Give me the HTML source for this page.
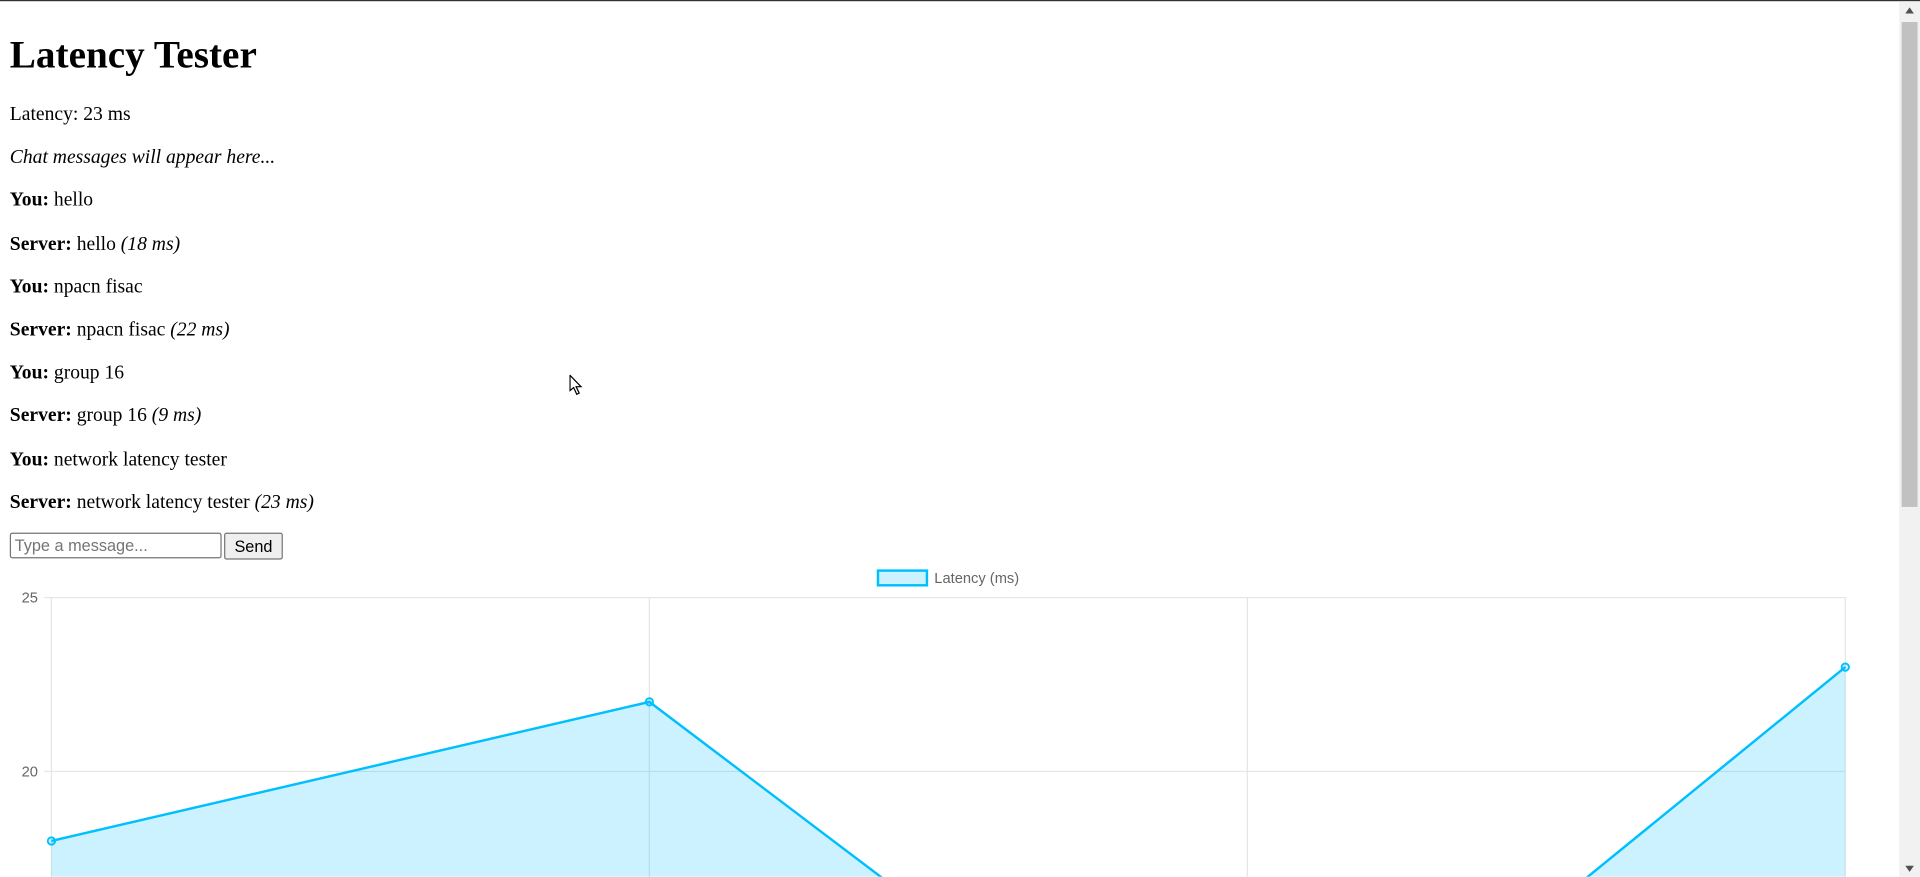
<!DOCTYPE html>
<html><head><meta charset="utf-8"><style>
html,body{margin:0;padding:0;overflow:hidden;background:#fff;width:1920px;height:877px}
#wrap{position:absolute;left:0;top:0;width:1568px;height:716px;transform:scale(1.22449);transform-origin:0 0;overflow:hidden;border-top:1px solid #333;box-sizing:border-box;font-family:"Liberation Serif",serif;font-size:16px}
#content{position:absolute;left:8px;top:0;width:1535px}
h1{font-size:32px;margin:25px 0 21px;line-height:37px}
p{margin:16px 0;line-height:19.2px}
#row{position:absolute;left:8px;top:434px}
#msg{width:173px;height:21px;box-sizing:border-box;border:1px solid #767676;border-radius:2px;font:13.3px "Liberation Sans",sans-serif;padding:1px 3px;vertical-align:top}
#send{height:22px;box-sizing:border-box;width:48px;margin-left:2px;font:13.3px "Liberation Sans",sans-serif;background:#efefef;border:1px solid #767676;border-radius:2px;padding:0;vertical-align:top}
#chart{position:absolute;left:0;top:0}
#sb{position:absolute;left:1551px;top:0;width:17px;height:716px;background:#f1f1f1}
</style></head><body>
<div id="wrap">
<div id="content">
<h1>Latency Tester</h1>
<p>Latency: 23 ms</p>
<p><i>Chat messages will appear here...</i></p>
<p><b>You:</b> hello</p>
<p><b>Server:</b> hello <i>(18 ms)</i></p>
<p><b>You:</b> npacn fisac</p>
<p><b>Server:</b> npacn fisac <i>(22 ms)</i></p>
<p><b>You:</b> group 16</p>
<p><b>Server:</b> group 16 <i>(9 ms)</i></p>
<p><b>You:</b> network latency tester</p>
<p><b>Server:</b> network latency tester <i>(23 ms)</i></p>
</div>
<div id="row"><input id="msg" placeholder="Type a message..."><button id="send">Send</button></div>
<svg id="chart" width="1551" height="716" font-family="Liberation Sans, sans-serif"></svg>
<svg style="position:absolute;left:465px;top:305px" width="12" height="18"><path d="M0.5 0.5 L0.5 13 L3.5 10.5 L6 16 L8 15 L5.5 9.8 L9.5 9.8 Z" fill="#fff" stroke="#000" stroke-width="1"/></svg>
<div id="sb">
<div style="position:absolute;left:2px;top:17px;width:13px;height:396px;background:#c1c1c1"></div>
<svg width="17" height="716" style="position:absolute;left:0;top:0"><path d="M5 10 L12 10 L8.5 5 Z" fill="#505050"/><path d="M5 706 L12 706 L8.5 711 Z" fill="#505050"/></svg>
</div>
</div>
<script>
const labels = ["1","2","3","4"];
const latency = [18, 22, 9, 23];
const yTicks = [25, 20, 15, 10, 5];
const NS = "http://www.w3.org/2000/svg";
const svg = document.getElementById('chart');
const L = 42, R = 1507, T = 487, yMax = 25, pxPerUnit = 28.4, BOTTOM = 716;
function x(i){ return L + i*(R-L)/(labels.length-1); }
function y(v){ return T + (yMax - v)*pxPerUnit; }
function mk(tag, attrs){ const e=document.createElementNS(NS,tag); for(const k in attrs) e.setAttribute(k,attrs[k]); svg.appendChild(e); return e; }
yTicks.forEach(t=>{
  if (y(t) > BOTTOM) return;
  const g = mk('line',{x1:36,x2:R,y1:y(t),y2:y(t),stroke:'#e5e5e5','stroke-width':1});
  
  
  const tx = mk('text',{x:31,y:y(t)+4,'text-anchor':'end','font-size':12,fill:'#666'});
  tx.textContent = t;
  
  
});
labels.forEach((l,i)=>{
  const g = mk('line',{x1:x(i),x2:x(i),y1:T,y2:BOTTOM,stroke:'#e5e5e5','stroke-width':1});
  
  
});
const base = y(yTicks[yTicks.length-1]);
let d = latency.map((v,i)=>(i?'L':'M')+x(i)+' '+y(v)).join(' ');
const area = mk('path',{d:d+' L'+x(latency.length-1)+' '+base+' L'+x(0)+' '+base+' Z',fill:'rgba(0,191,255,0.2)'});


const line = mk('path',{d:d,fill:'none',stroke:'#00bfff','stroke-width':2});


latency.forEach((v,i)=>{
  const c = mk('circle',{cx:x(i),cy:y(v),r:3,fill:'rgba(0,191,255,0.2)',stroke:'#00bfff','stroke-width':1.5});
  
  
});
const lb = mk('rect',{x:717,y:465,width:40,height:12,fill:'rgba(0,191,255,0.2)',stroke:'#00bfff','stroke-width':2});


const lt = mk('text',{x:763,y:475,'font-size':12,fill:'#666'});
lt.textContent = 'Latency (ms)';


</script>
</body></html>
